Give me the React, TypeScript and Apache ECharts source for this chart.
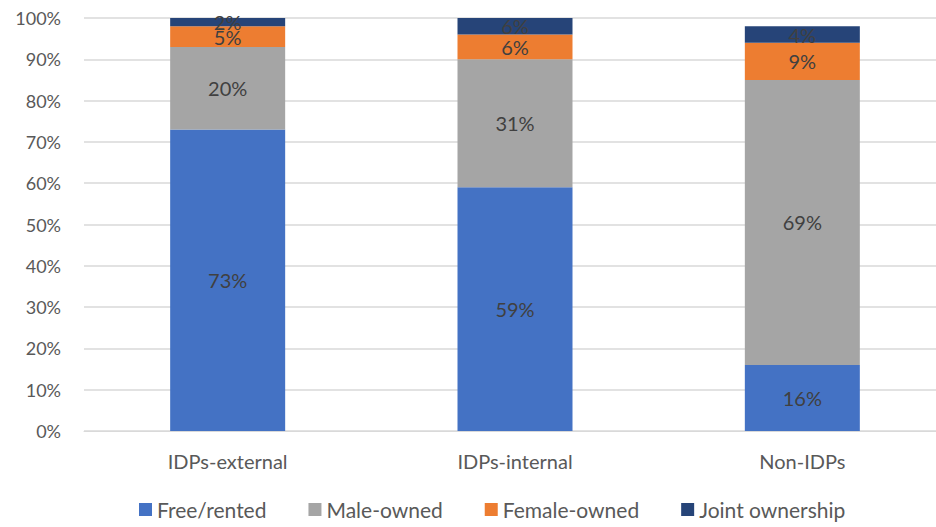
import React, { useEffect, useRef } from "react";
import * as echarts from "echarts";

const categories = ["IDPs-external", "IDPs-internal", "Non-IDPs"];
const freeRented = [73, 59, 16];
const maleOwned = [20, 31, 69];
const femaleOwned = [5, 6, 9];
const jointOwnership = [2, 4, 4];
const jointLabels = ["2%", "6%", "4%"];
const seriesNames = ["Free/rented", "Male-owned", "Female-owned", "Joint ownership"];
const colors = ["#4472C4", "#A5A5A5", "#ED7D31", "#264478"];

const FONT = "Lato, 'Noto Sans', sans-serif";

export default function App() {
  const ref = useRef<HTMLDivElement>(null);
  useEffect(() => {
    document.body.style.margin = "0";
    document.body.style.overflow = "hidden";
    document.documentElement.style.overflow = "hidden";
    const chart = echarts.init(ref.current!, null, { renderer: "svg" });
    const label = (texts?: string[]) => ({
      show: true,
      position: "inside",
      color: "#404040",
      fontSize: 20,
      fontFamily: FONT,
      formatter: (p: any) => (texts ? texts[p.dataIndex] : p.value + "%"),
    });
    const data = [freeRented, maleOwned, femaleOwned, jointOwnership];
    chart.setOption({
      animation: false,
      textStyle: { fontFamily: FONT },
      grid: { left: 84, top: 18, right: 0, bottom: 96, containLabel: false },
      legend: {
        bottom: 2,
        left: 134,
        itemWidth: 13,
        itemHeight: 13,
        itemGap: 42,
        icon: "rect",
        textStyle: { color: "#595959", fontSize: 21, fontFamily: FONT },
        data: seriesNames,
      },
      xAxis: {
        type: "category",
        data: categories,
        axisLine: { lineStyle: { color: "#D9D9D9" } },
        axisTick: { show: false },
        axisLabel: { color: "#595959", fontSize: 20, margin: 20, fontFamily: FONT },
      },
      yAxis: {
        type: "value",
        min: 0,
        max: 100,
        interval: 10,
        axisLine: { show: false },
        axisTick: { show: false },
        splitLine: { lineStyle: { color: "#D9D9D9", width: 1.5 } },
        axisLabel: { color: "#595959", fontSize: 18, margin: 23, formatter: "{value}%", fontFamily: FONT },
      },
      series: seriesNames.map((name, i) => ({
        name,
        type: "bar",
        stack: "total",
        barWidth: 115,
        itemStyle: { color: colors[i] },
        label: label(i === 3 ? jointLabels : undefined),
        data: data[i],
      })),
    });
    return () => chart.dispose();
  }, []);
  return <div ref={ref} style={{ width: 946, height: 527 }} />;
}
